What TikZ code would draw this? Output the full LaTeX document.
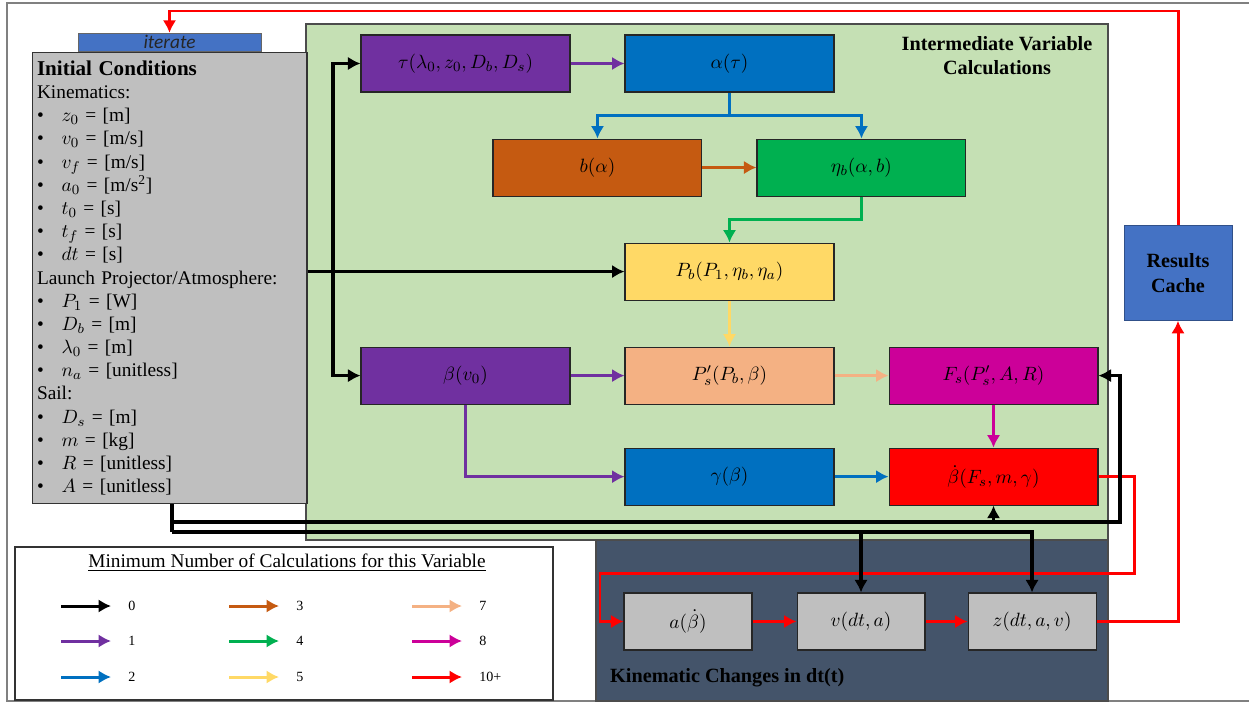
\documentclass[tikz,border=0pt]{standalone}
\usepackage{fontspec}
\setmainfont{Liberation Serif}
\newfontfamily\tabfont{Carlito}
\definecolor{calcpurple}{RGB}{112, 48, 160}
\definecolor{calcblue}{RGB}{0, 112, 192}
\definecolor{calcorange}{RGB}{197, 90, 17}
\definecolor{calcgreen}{RGB}{0, 176, 80}
\definecolor{calcyellow}{RGB}{255, 217, 102}
\definecolor{calcpeach}{RGB}{244, 177, 131}
\definecolor{calcmagenta}{RGB}{204, 0, 153}
\definecolor{calcred}{RGB}{255, 0, 0}
\definecolor{boxgray}{RGB}{191, 191, 191}
\definecolor{panelgreen}{RGB}{197, 224, 180}
\definecolor{panelslate}{RGB}{68, 84, 106}
\definecolor{cacheblue}{RGB}{68, 114, 196}
\usetikzlibrary{arrows.meta, positioning, calc}
\tikzset{
	varbox/.style={rectangle, draw=black!85, line width=0.6pt, minimum width=4.18cm, minimum height=1.14cm, inner sep=1pt, font=\fontsize{11}{13}\selectfont},
	kinbox/.style={varbox, fill=boxgray, minimum width=2.56cm},
	icbox/.style={rectangle, draw=black!80, fill=boxgray, line width=0.6pt, minimum width=5.5cm, minimum height=9.04cm, text width=5.3cm, align=left, inner sep=0pt, font=\fontsize{11}{13.2}\selectfont},
	heading/.style={font=\fontsize{11.5}{14}\selectfont\bfseries, align=center},
	calcarrow/.style={-{Latex[length=2.5mm, width=2.7mm]}, line width=1.7pt, draw=#1},
	calcline/.style={line width=1.7pt, draw=#1},
	feedarrow/.style={calcarrow=black, line width=2pt},
	feedline/.style={calcline=black, line width=2pt},
}
\newcommand{\icitem}[1]{\makebox[14pt][l]{\textbullet}#1}

\begin{document}
\begin{tikzpicture}[x=0.02cm, y=-0.02cm, node distance=0.92cm and 1.08cm]
		\useasboundingbox (0,0) rectangle (1249,704);
		\draw[gray, line width=1pt] (1249,3) -- (7,3) -- (7,701) -- (1249,701);
		% panels
		\draw[black!70, fill=panelgreen, line width=0.6pt] (306,24) rectangle (1108,540);
		\draw[black!70, fill=panelslate, line width=0.6pt] (596,540) rectangle (1108,701);
		\draw[black!80, line width=0.6pt] (15,547) rectangle (553,700);
		\node[heading, anchor=north] (calctitle) at (997,30) {Intermediate Variable\\Calculations};
		\node[heading, anchor=west] (kintitle) at (604,678) {Kinematic Changes in dt(t)};
		% initial conditions
		\node[icbox] (ic) at (169.5,278) {{\fontsize{12}{14}\selectfont\bfseries Initial Conditions}\\
			Kinematics:\\
			\icitem{$z_0$ = [m]}\\
			\icitem{$v_0$ = [m/s]}\\
			\icitem{$v_f$ = [m/s]}\\
			\icitem{$a_0$ = [m/s\textsuperscript{2}]}\\
			\icitem{$t_0$ = [s]}\\
			\icitem{$t_f$ = [s]}\\
			\icitem{$dt$ = [s]}\\
			Launch Projector/Atmosphere:\\
			\icitem{$P_1$ = [W]}\\
			\icitem{$D_b$ = [m]}\\
			\icitem{$\lambda_0$ = [m]}\\
			\icitem{$n_a$ = [unitless]}\\
			Sail:\\
			\icitem{$D_s$ = [m]}\\
			\icitem{$m$ = [kg]}\\
			\icitem{$R$ = [unitless]}\\
			\icitem{$A$ = [unitless]}};
		\node[rectangle, draw=black!60, fill=cacheblue, minimum width=3.66cm, minimum height=0.36cm, inner sep=0pt, text=black!85, font=\tabfont\itshape\fontsize{11}{12}\selectfont, above=0pt of ic] (iterate) {iterate};
		\node[heading, rectangle, draw=cacheblue!70!black, fill=cacheblue, minimum width=2.16cm, minimum height=1.9cm] (cache) at (1178,273) {Results\\Cache};
		% intermediate variables
		\node[varbox, fill=calcpurple] (tau) at (465.5,63.5) {$\tau(\lambda_0, z_0, D_b, D_s)$};
		\node[varbox, fill=calcblue, right=of tau] (alpha) {$\alpha(\tau)$};
		\node[varbox, fill=calcgreen, below=of alpha, xshift=2.64cm] (eta) {$\eta_b(\alpha, b)$};
		\node[varbox, fill=calcorange, left=of eta] (b) {$b(\alpha)$};
		\node[varbox, fill=calcyellow, below=of eta, xshift=-2.64cm] (pb) {$P_b(P_1, \eta_b, \eta_a)$};
		\node[varbox, fill=calcpeach, below=of pb] (ps) {$P'_s(P_b, \beta)$};
		\node[varbox, fill=calcpurple, left=of ps] (beta) {$\beta(v_0)$};
		\node[varbox, fill=calcmagenta, right=of ps] (fs) {$F_s(P'_s, A, R)$};
		\node[varbox, fill=calcblue, below=0.86cm of ps] (gamma) {$\gamma(\beta)$};
		\node[varbox, fill=calcred, right=of gamma] (bdot) {$\dot{\beta}(F_s, m, \gamma)$};
		% kinematic changes
		\node[kinbox] (acc) at (688,621.5) {$a(\dot{\beta})$};
		\node[kinbox, right=0.88cm of acc] (vel) {$v(dt, a)$};
		\node[kinbox, right=0.84cm of vel] (pos) {$z(dt, a, v)$};
		% colored connectors
		\coordinate (alphasplit) at ($(alpha.south)+(0,23)$);
		\draw[calcarrow=calcpurple] (tau) -- (alpha);
		\draw[calcline=calcblue] (alpha.south) -- (alphasplit);
		\draw[calcarrow=calcblue] (alphasplit) -| (b.north);
		\draw[calcarrow=calcblue] (alphasplit) -| (eta.north);
		\draw[calcarrow=calcorange] (b) -- (eta);
		\draw[calcarrow=calcgreen] (eta.south) -- ++(0,23) -| (pb.north);
		\draw[calcarrow=calcyellow] (pb) -- (ps);
		\draw[calcarrow=calcpurple] (beta) -- (ps);
		\draw[calcarrow=calcpurple] (beta.south) |- (gamma.west);
		\draw[calcarrow=calcpeach] (ps) -- (fs);
		\draw[calcarrow=calcmagenta] (fs) -- (bdot);
		\draw[calcarrow=calcblue] (gamma) -- (bdot);
		% iteration loop
		\coordinate (loopright) at (1134,573);
		\coordinate (loopleft) at (600,573);
		\coordinate (looptop) at (169.5,11);
		\draw[calcarrow=calcred] (bdot.east) -| (loopright) -- (loopleft) |- (acc.west);
		\draw[calcarrow=calcred] (acc) -- (vel);
		\draw[calcarrow=calcred] (vel) -- (pos);
		\draw[calcarrow=calcred] (pos.east) -| (cache.south);
		\draw[calcarrow=calcred] (cache.north) |- (looptop) -- (iterate.north);
		% inputs
		\coordinate (feed) at (333,268);
		\coordinate (kinrail) at (172,532);
		\coordinate (forcerail) at (1120,522);
		\draw[feedarrow] (ic.east |- pb) -- (pb.west);
		\draw[feedarrow] (feed) |- (tau.west);
		\draw[feedarrow] (feed) |- (beta.west);
		\draw[feedline] (ic.south -| kinrail) -- (kinrail);
		\draw[feedarrow] (ic.south -| kinrail) |- (forcerail) |- (fs.east);
		\draw[feedarrow] (bdot.south |- forcerail) -- (bdot.south);
		\draw[feedarrow] (kinrail) -| (pos.north);
		\draw[feedarrow] (vel.north |- kinrail) -- (vel.north);
		% legend
		\node[font=\fontsize{11}{13}\selectfont] (legendtitle) at (287,563) {\underline{Minimum Number of Calculations for this Variable}};
		\foreach \x/\y/\shade/\lbl [count=\i] in {61/606/black/0, 61/641/calcpurple/1, 61/677/calcblue/2, 229/606/calcorange/3, 229/641/calcgreen/4, 229/677/calcyellow/5, 412/606/calcpeach/7, 412/641/calcmagenta/8, 412/677/calcred/10+}
			\draw[calcarrow=\shade] (\x,\y) -- ++(50,0) node[right=0.2cm, text=black, font=\fontsize{8}{9}\selectfont] (key\i) {\lbl};
	\end{tikzpicture}
\end{document}
